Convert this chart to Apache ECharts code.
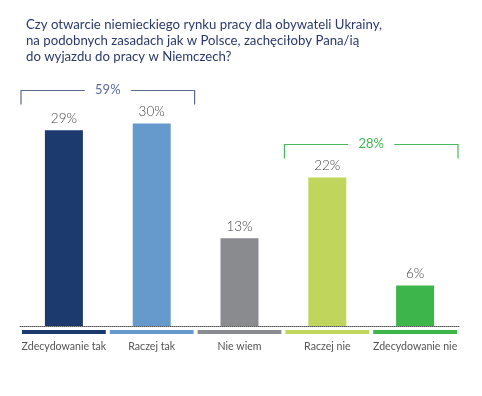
<!DOCTYPE html>
<html>
<head>
<meta charset="utf-8">
<script src="https://cdn.jsdelivr.net/npm/echarts@6/dist/echarts.min.js"></script>
<style>
  html, body { margin: 0; padding: 0; background: #fff; }
  #chart { width: 482px; height: 396px; }
</style>
</head>
<body>
<div id="chart"></div>
<script>
var titleLines = [
  'Czy otwarcie niemieckiego rynku pracy dla obywateli Ukrainy,',
  'na podobnych zasadach jak w Polsce, zachęciłoby Pana/ią',
  'do wyjazdu do pracy w Niemczech?'
]
var categories = ['Zdecydowanie tak', 'Raczej tak', 'Nie wiem', 'Raczej nie', 'Zdecydowanie nie']
var values = [29, 30, 13, 22, 6]
// groups: [first index, last index, total]
var groups = [[0, 1, 59], [3, 4, 28]]

var colors = ['#1d3a6e', '#6699cc', '#8a8b8f', '#bfd55b', '#3db54a']
var groupColors = ['#5b6b8e', '#4cb85c']
var groupTextColors = ['#5a6a9a', '#45b556']
var font = 'Lato'

var groupData = groups.map(function (g) {
  var mx = Math.max.apply(null, values.slice(g[0], g[1] + 1))
  return [g[0], g[1], mx, g[2]]
})

var chart = echarts.init(document.getElementById('chart'))
chart.setOption({
  backgroundColor: '#fff',
  animation: false,
  title: {
    text: titleLines.join('\n'),
    left: 21,
    top: 12,
    textStyle: { fontFamily: font, fontSize: 13.2, lineHeight: 16, color: '#2b3a6b', fontWeight: 'normal' }
  },
  grid: { left: 20, right: 23, top: 56, bottom: 70 },
  xAxis: {
    type: 'category',
    data: categories,
    axisLine: { lineStyle: { color: '#555', type: 'dotted', width: 1 } },
    axisTick: { show: false },
    axisLabel: { fontFamily: font, fontSize: 10.6, color: '#555', margin: 15, interval: 0 }
  },
  yAxis: {
    type: 'value',
    min: 0,
    max: 40,
    show: false,
    splitLine: { show: false }
  },
  series: [
    {
      type: 'bar',
      barWidth: 38,
      data: values.map(function (v, i) {
        return { value: v, itemStyle: { color: colors[i] } }
      }),
      label: {
        show: true,
        position: 'top',
        distance: 5,
        formatter: '{c}%',
        fontFamily: font,
        fontSize: 13.5,
        fontWeight: 300,
        color: '#444'
      }
    },
    {
      type: 'custom',
      data: categories.map(function (c, i) { return [i, 0] }),
      renderItem: function (params, api) {
        var idx = api.value(0)
        var p = api.coord([idx, 0])
        var bw = api.size([1, 0])[0]
        return {
          type: 'rect',
          shape: { x: p[0] - bw / 2 + 2, y: p[1] + 4, width: bw - 4, height: 4 },
          style: { fill: colors[idx] }
        }
      },
      silent: true
    },
    {
      type: 'custom',
      data: groupData,
      renderItem: function (params, api) {
        var a = api.value(0), b = api.value(1), mx = api.value(2), total = api.value(3)
        var bw = api.size([1, 0])[0]
        var p0 = api.coord([a, mx])
        var p1 = api.coord([b, mx])
        var left = p0[0] - bw / 2 + 1
        var right = p1[0] + bw / 2 - 1
        var top = p0[1] - 33
        var mid = (left + right) / 2
        var col = groupColors[params.dataIndex]
        var ls = { stroke: col, lineWidth: 1.2, fill: null }
        return {
          type: 'group',
          children: [
            { type: 'polyline', shape: { points: [[left, top + 14], [left, top], [mid - 23, top]] }, style: ls },
            { type: 'polyline', shape: { points: [[mid + 23, top], [right, top], [right, top + 14]] }, style: ls },
            {
              type: 'text',
              style: {
                x: mid, y: top - 1, text: total + '%', align: 'center', verticalAlign: 'middle',
                fill: groupTextColors[params.dataIndex], fontFamily: font, fontSize: 13
              }
            }
          ]
        }
      },
      silent: true
    }
  ]
})
</script>
</body>
</html>
